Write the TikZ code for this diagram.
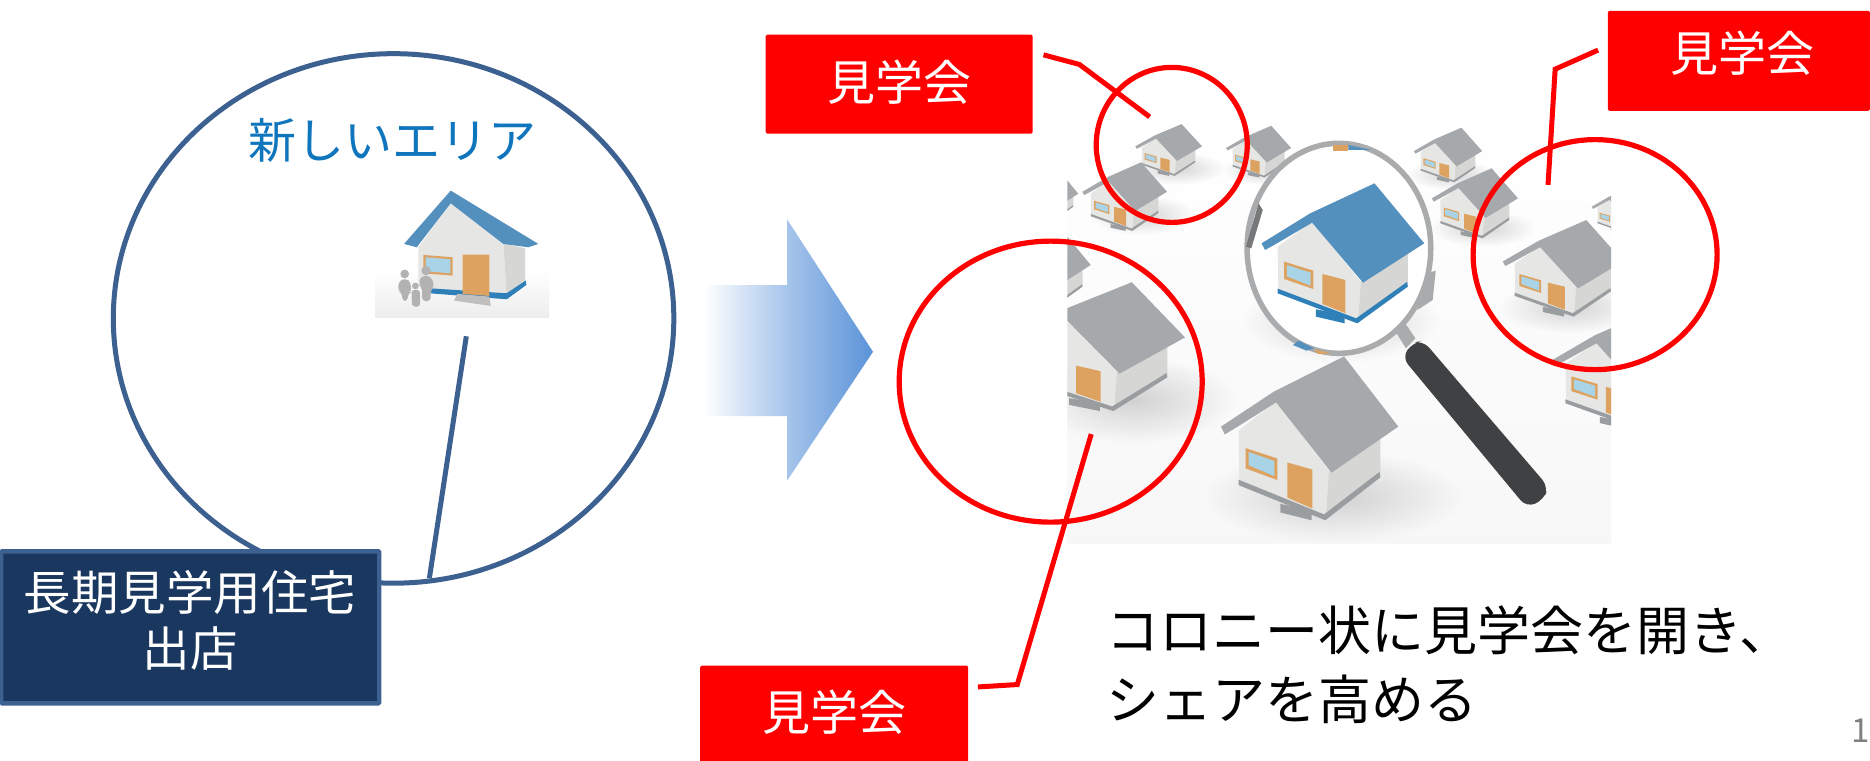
\documentclass[tikz,border=0pt]{standalone}
\usepackage{fontspec}
\setmainfont{Noto Sans CJK JP}
\usetikzlibrary{shapes.geometric,fadings}
\tikzfading[name=softout,inner color=transparent!0,outer color=transparent!100]
\definecolor{navyedge}{HTML}{3C6090}
\definecolor{navyfill}{HTML}{1A375F}
\definecolor{txtblue}{HTML}{0F75BD}
\definecolor{arrowblue}{HTML}{5B93D9}
\definecolor{greyroof}{HTML}{A6A9AC}
\definecolor{greytrim}{HTML}{9A9DA0}
\definecolor{blueroof}{HTML}{5390BD}
\definecolor{bluetrim}{HTML}{2F7FB8}
\definecolor{wallfront}{HTML}{E6E6E4}
\definecolor{wallside}{HTML}{D6D6D4}
\definecolor{doorc}{HTML}{DDA25F}
\definecolor{winc}{HTML}{A9D3E6}
\definecolor{handlec}{HTML}{3F4143}
\definecolor{ringc}{HTML}{A9ABAD}
\tikzset{
  redbox/.style={draw=none,fill=red,rounded corners=1.5pt,inner sep=0pt,outer sep=0pt},
  redtext/.style={inner sep=0pt,outer sep=0pt,text=white,font=\fontsize{48}{56}\selectfont},
  redring/.style={draw=red,line width=5.2pt,ellipse,inner sep=0pt,outer sep=0pt,fill=none},
  redlink/.style={draw=red,line width=5pt},
  navyring/.style={draw=navyedge,line width=5pt,ellipse,inner sep=0pt,outer sep=0pt},
  navylink/.style={draw=navyedge,line width=5pt},
  navybox/.style={draw=navyedge,fill=navyfill,line width=4.4pt,rounded corners=1pt,inner sep=0pt,outer sep=0pt,minimum width=378pt,minimum height=152pt},
  navytext/.style={text=white,align=center,inner sep=0pt,outer sep=0pt,font=\fontsize{47.5}{56}\selectfont},
  bigtext/.style={inner sep=0pt,outer sep=0pt,align=left,anchor=west,font=\fontsize{53}{69}\selectfont},
  softshadow/.style={fill=black,opacity=.16,path fading=softout}
}
% house drawn in the coordinates of the large blue one
\newcommand{\phouse}[6]{%
\begin{scope}[shift={(#1,#2)},xscale=#3,yscale=#4,shift={(-765,-460)}]
  \fill[#6] (695,628) -- (770,645) -- (770,670) -- (695,650) -- cycle;
  \fill[wallfront] (595,440) -- (685,365) -- (812,545) -- (805,668) -- (597,575) -- cycle;
  \fill[wallside] (812,545) -- (935,455) -- (935,555) -- (805,668) -- cycle;
  \fill[#6] (595,566) -- (800,655) -- (933,546) -- (935,560) -- (803,670) -- (595,580) -- cycle;
  \fill[doorc] (712,522) -- (772,540) -- (772,640) -- (712,612) -- cycle;
  \fill[doorc] (612,485) -- (688,512) -- (688,567) -- (612,537) -- cycle;
  \fill[winc] (619,495) -- (681,518) -- (681,557) -- (619,529) -- cycle;
  \fill[#5] (553,430) -- (680,340) -- (848,250) -- (978,430) -- (818,548) -- (685,368) -- (590,432) -- (562,450) -- cycle;
\end{scope}}
\newcommand{\pshadow}[4]{\path[softshadow] (#1,#2) ellipse[x radius=#3,y radius=#4];}
\begin{document}
\begin{tikzpicture}[x=1.1926pt,y=-1.1926pt]
\useasboundingbox (0,0) rectangle (1568,638.1);
\fill[white] (0,0) rectangle (1568,638.1);

% ---- left: small house picture
\begin{scope}[shift={(301.9,142.5)},x=0.2795pt*1.1926,y=-0.2795pt*1.1926]
  \shade[top color=white,bottom color=black!7] (45,300) rectangle (567,443);
  \fill[wallfront] (175,232) -- (272,100) -- (430,220) -- (440,380) -- (212,360) -- (175,345) -- cycle;
  \fill[wallside] (430,220) -- (495,235) -- (495,335) -- (440,380) -- cycle;
  \fill[bluetrim] (208,355) -- (440,370) -- (497,332) -- (499,345) -- (440,388) -- (208,370) -- cycle;
  \fill[black!25] (292,372) -- (388,380) -- (392,408) -- (282,392) -- cycle;
  \fill[doorc] (308,254) -- (388,254) -- (388,378) -- (308,372) -- cycle;
  \fill[doorc] (190,255) -- (278,262) -- (278,317) -- (190,310) -- cycle;
  \fill[winc] (197,262) -- (271,268) -- (271,310) -- (197,304) -- cycle;
  \fill[blueroof] (272,62) -- (535,222) -- (505,232) -- (430,222) -- (272,100) -- (170,232) -- (132,222) -- cycle;
  \begin{scope}[black!30]
    \fill (134,312) circle[radius=13];
    \fill[rounded corners=4pt] (120,328) -- (148,328) -- (156,365) -- (144,368) -- (144,393) -- (126,393) -- (126,368) -- (112,360) -- cycle;
    \fill (198,302) circle[radius=14];
    \fill[rounded corners=4pt] (182,318) -- (212,318) -- (224,350) -- (212,358) -- (212,394) -- (186,394) -- (186,350) -- (176,345) -- cycle;
    \fill (166,348) circle[radius=10];
    \fill[rounded corners=3pt] (154,360) -- (180,360) -- (180,410) -- (156,410) -- cycle;
  \end{scope}
\end{scope}

% ---- left: circle, link, box, caption
\node[navyring,minimum width=560.5pt,minimum height=529.5pt] (area) at (330,267) {};
\coordinate (houseend) at (391,282);
\coordinate (ringend) at (360,485);
\draw[navylink] (houseend) -- (ringend);
\node[inner sep=0pt,outer sep=0pt,text=txtblue,font=\fontsize{48}{56}\selectfont] (areatext) at (329,118) {新しいエリア};
\node[navybox] (shop) at (159.5,526) {};
\node[navytext] (shoptext) at (159.5,520) {長期見学用住宅\\出店};
\node[anchor=base east,inner sep=0pt,text=black!50,font=\fontsize{33}{38}\selectfont] (pagenum) at (1568,623) {1};

% ---- arrow
\shade[left color=white,right color=arrowblue,middle color=arrowblue!55]
  (590,239) -- (660,239) -- (660,184) -- (732,295) -- (660,403) -- (660,349) -- (590,349) -- cycle;

% ---- right: photograph
\begin{scope}
\clip (895,100) rectangle (1351,455.5);
\shade[top color=white,bottom color=black!3] (895,100) rectangle (1351,455.5);
\begin{scope}[shift={(880.4,83.85)},x=0.3209pt*1.1926,y=-0.2795pt*1.1926]
  \pshadow{330}{205}{130}{50}
  \pshadow{560}{210}{110}{45}
  \pshadow{240}{345}{140}{60}
  \pshadow{1050}{225}{120}{45}
  \pshadow{1130}{385}{140}{55}
  \pshadow{1360}{620}{190}{80}
  \pshadow{220}{900}{270}{130}
  \pshadow{740}{1190}{340}{140}
  \pshadow{760}{660}{260}{130}
  \phouse{0}{510}{.5}{.5}{greyroof}{greytrim}
  \phouse{10}{290}{.3}{.3}{greyroof}{greytrim}
  \phouse{310}{150}{.41}{.37}{greyroof}{greytrim}
  \phouse{545}{155}{.4}{.37}{greyroof}{greytrim}
  \phouse{195}{290}{.52}{.49}{greyroof}{greytrim}
  \phouse{1040}{165}{.42}{.39}{greyroof}{greytrim}
  \phouse{1110}{310}{.53}{.5}{greyroof}{greytrim}
  \phouse{1490}{330}{.35}{.33}{greyroof}{greytrim}
  \phouse{1500}{808}{.9}{.85}{greyroof}{greytrim}
  \phouse{1340}{505}{.74}{.69}{greyroof}{greytrim}
  \phouse{125}{740}{1.07}{.92}{greyroof}{greytrim}
  \phouse{678}{1015}{1.09}{1.17}{greyroof}{greytrim}
  % magnifier
  \fill[ringc] (895,680) -- (925,665) -- (955,715) -- (930,745) -- cycle;
  \fill[handlec,rounded corners=9pt] (920,772) -- (948,728) -- (975,722) -- (1302,1160) -- (1290,1200) -- (1245,1222) -- cycle;
  \fill[ringc] (985,520) -- (1008,512) -- (1000,600) -- (960,630) -- cycle;
  \fill[white] (755,445) ellipse[x radius=240,y radius=315];
  \draw[ringc,line width=5.5pt] (755,445) ellipse[x radius=240,y radius=315];
  \fill[ringc!70!black] (512,440) -- (545,310) -- (556,330) -- (526,445) -- cycle;
  \fill[doorc] (740,135) -- (780,135) -- (780,152) -- (740,152) -- cycle;
  \fill[blueroof] (780,135) -- (840,150) -- (780,150) -- cycle;
  \fill[blueroof] (635,735) -- (650,722) -- (690,745) -- (670,752) -- cycle;
  \fill[doorc] (690,748) -- (735,760) -- (700,762) -- cycle;
  \phouse{765}{460}{1}{1}{blueroof}{bluetrim}
\end{scope}
\end{scope}

% ---- right: labels, rings, links
\node[redring,minimum width=151pt,minimum height=155pt] (ringa) at (982.5,121.5) {};
\node[redring,minimum width=244pt,minimum height=230pt] (ringb) at (1337.5,213.5) {};
\node[redring,minimum width=303pt,minimum height=281pt] (ringc) at (881,320) {};

\node[redbox,minimum width=267pt,minimum height=99pt] (laba) at (754,70.5) {};
\node[redtext] (labatext) at (754,69) {見学会};
\node[redbox,minimum width=262pt,minimum height=100pt] (labb) at (1458,51) {};
\node[redtext] (labbtext) at (1461,45) {見学会};
\node[redbox,minimum width=268pt,minimum height=100pt] (labc) at (699.5,600) {};
\node[redtext] (labctext) at (699.5,597) {見学会};

\coordinate (a1) at (875,46);
\coordinate (a2) at (905,54);
\coordinate (a3) at (964,98);
\draw[redlink] (a1) -- (a2) -- (a3);
\coordinate (b1) at (1340,42);
\coordinate (b2) at (1304,58);
\coordinate (b3) at (1298,155);
\draw[redlink] (b1) -- (b2) -- (b3);
\coordinate (c1) at (820,576);
\coordinate (c2) at (853,574);
\coordinate (c3) at (915,364);
\draw[redlink] (c1) -- (c2) -- (c3);

\node[bigtext] (caption) at (928,557) {コロニー状に見学会を開き、\\シェアを高める};
\end{tikzpicture}
\end{document}
